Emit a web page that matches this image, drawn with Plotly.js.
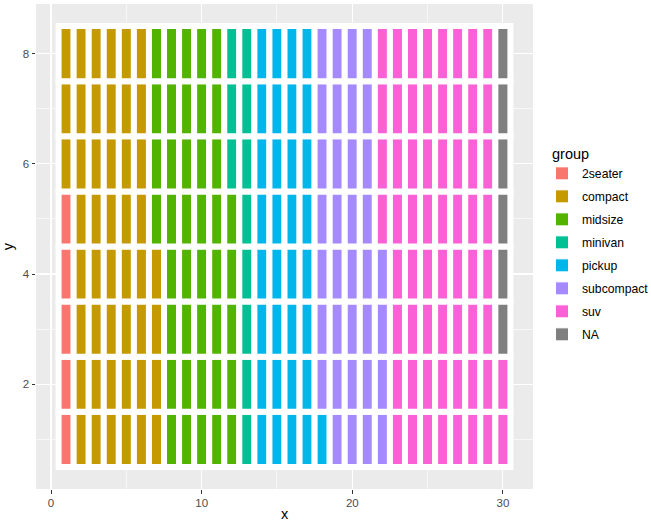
<!DOCTYPE html>
<html>
<head>
<meta charset="utf-8">
<script src="https://cdn.plot.ly/plotly-3.0.1.min.js"></script>
<style>html,body{margin:0;padding:0;background:#fff;}#chart{width:651px;height:522px;}</style>
</head>
<body>
<div id="chart"></div>
<script>
// Data: mpg class counts, waffle of 8 rows
const groups = ["2seater", "compact", "midsize", "minivan", "pickup", "subcompact", "suv", "NA"];
const counts = [5, 47, 41, 11, 33, 35, 62, 6];
const colors = ["#F8766D", "#C49A00", "#53B400", "#00C094", "#00B6EB", "#A58AFF", "#FB61D7", "#7F7F7F"];
const nRows = 8;
const xTicks = [0, 10, 20, 30];
const yTicks = [2, 4, 6, 8];

const traces = [];
let idx = 0;
groups.forEach((g, gi) => {
  const xs = [], bases = [], hs = [];
  for (let k = 0; k < counts[gi]; k++) {
    xs.push(Math.floor(idx / nRows) + 1);
    bases.push((idx % nRows) + 1 - 0.5);
    hs.push(1);
    idx++;
  }
  traces.push({
    type: "bar", x: xs, y: hs, base: bases, width: 1,
    marker: {color: colors[gi], line: {color: "#FFFFFF", width: 6}},
    showlegend: false, legendgroup: g, hoverinfo: "skip"
  });
});
groups.forEach((g, gi) => {
  traces.push({
    type: "scatter", mode: "markers", x: [null], y: [null], name: g, legendgroup: g,
    marker: {symbol: "square", size: 13, color: colors[gi], line: {color: "#FFFFFF", width: 1}},
    showlegend: true
  });
});

const layout = {
  width: 651, height: 522,
  margin: {l: 36, r: 118, t: 4, b: 33},
  paper_bgcolor: "#FFFFFF", plot_bgcolor: "#EBEBEB",
  barmode: "overlay",
  font: {family: "Liberation Sans, Arial, sans-serif", color: "#000000"},
  xaxis: {
    range: [-1, 32], tickvals: xTicks, ticktext: xTicks.map(String),
    showgrid: true, gridcolor: "#FFFFFF", gridwidth: 1.2, zeroline: false,
    ticks: "outside", ticklen: 3.5, tickwidth: 1, tickcolor: "#333333",
    tickfont: {size: 11.5, color: "#4D4D4D"},
    minor: {dtick: 5, tick0: 5, showgrid: true, gridcolor: "#FFFFFF", gridwidth: 0.6, ticks: ""},
    title: {text: "x", font: {size: 14.5, color: "#000000"}, standoff: 4},
    showline: false, fixedrange: true
  },
  yaxis: {
    range: [0.1, 8.9], tickvals: yTicks, ticktext: yTicks.map(String),
    showgrid: true, gridcolor: "#FFFFFF", gridwidth: 1.2, zeroline: false,
    ticks: "outside", ticklen: 3.5, tickwidth: 1, tickcolor: "#333333",
    tickfont: {size: 11.5, color: "#4D4D4D"},
    minor: {dtick: 1, tick0: 1, showgrid: true, gridcolor: "#FFFFFF", gridwidth: 0.6, ticks: ""},
    title: {text: "y", font: {size: 14.5, color: "#000000"}, standoff: 6},
    showline: false, fixedrange: true
  },
  legend: {
    xref: "container", yref: "container", x: 542 / 651, y: 1 - 140 / 522,
    xanchor: "left", yanchor: "top",
    title: {text: "\u00a0\u00a0group", font: {size: 14.5}},
    font: {size: 12.2, color: "#000000"},
    tracegroupgap: 4, traceorder: "grouped", bgcolor: "rgba(0,0,0,0)"
  },
  showlegend: true
};

Plotly.newPlot("chart", traces, layout, {staticPlot: true, displayModeBar: false});
</script>
</body>
</html>
